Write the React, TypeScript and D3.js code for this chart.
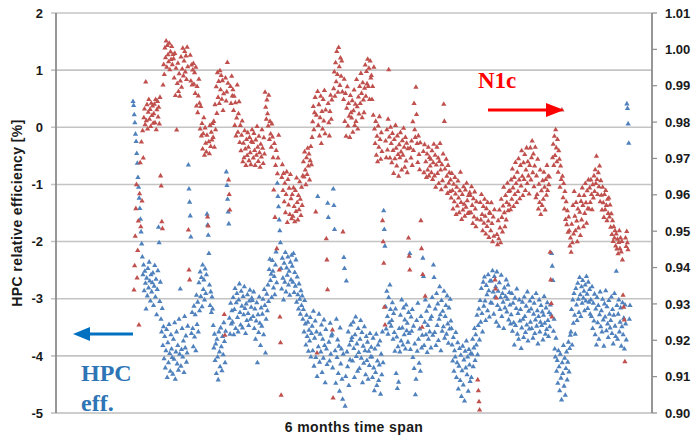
import React from "react";
import * as d3 from "d3";

// HPC relative efficiency [%] (left axis), samples in time order over 6 months
const hpcEff = [
  0.45, 0.38, 0.22, 0.08, -0.12, -0.25, -0.46, -0.63, -0.88, -1.05, -1.24, -1.42, -1.61, -1.83, -2.04, -2.27, -2.58, -2.41, -2.86, -2.52, -2.73, -3.18, -2.64, -2.95, -2.47, -2.81, -2.36, -2.69, -3.04, -2.58, -2.88, -2.72,
  -2.55, -3.12, -2.78, -2.42, -2.97, -2.66, -3.28, -2.84, -2.51, -1.75, -2.02, -3.05, -2.71, -3.36, -3.58, -3.17, -3.82, -3.49, -4.05, -3.66, -4.21, -3.91, -3.54, -4.38, -3.77, -4.12, -3.45, -3.96, -4.27, -3.63, -3.88, -4.03,
  -4.32, -3.71, -4.06, -3.42, -4.41, -3.93, -3.58, -4.14, -3.82, -4.25, -3.36, -3.97, -2.83, -4.18, -3.89, -3.52, -4.02, -3.74, -4.29, -3.31, -3.86, -3.65, -4.11, -3.95, -3.48, -0.66, -1.08, -1.31, -1.55, -1.92, -3.61, -3.24,
  -3.52, -3.84, -3.13, -3.67, -3.28, -3.91, -2.94, -3.45, -3.06, -3.58, -2.72, -3.21, -2.53, -2.96, -2.63, -3.14, -2.41, -2.84, -2.67, -3.02, -2.48, -2.91, -2.58, -1.52, -1.71, -1.89, -2.21, -2.76, -3.12, -2.88, -3.24, -2.97,
  -3.18, -3.47, -3.86, -3.62, -4.08, -3.79, -4.31, -3.71, -4.02, -4.42, -3.58, -3.93, -4.19, -3.51, -3.84, -4.26, -3.66, -3.98, -3.42, -3.75, -4.12, -3.57, -0.78, -1.02, -1.26, -1.48, -1.69, -3.34, -3.62, -3.08, -3.44, -3.21,
  -3.41, -2.98, -3.63, -3.19, -2.82, -3.52, -3.07, -2.91, -3.33, -3.58, -3.02, -2.74, -3.24, -3.46, -2.87, -3.13, -3.51, -2.96, -3.28, -2.79, -3.17, -3.61, -3.09, -3.38, -2.93, -3.26, -3.47, -3.04, -2.85, -3.36, -3.15, -2.99,
  -3.03, -3.31, -2.88, -3.52, -3.18, -3.71, -3.39, -3.07, -4.12, -3.28, -3.59, -2.97, -3.43, -3.82, -3.16, -3.48, -3.27, -3.01, -3.63, -2.84, -3.12, -3.95, -3.36, -2.92, -3.21, -2.76, -3.05, -2.49, -2.31, -2.68, -2.57, -2.98,
  -2.33, -2.52, -2.81, -2.61, -2.93, -2.41, -2.18, -2.72, -0.98, -1.21, -1.39, -1.62, -1.81, -2.02, -2.47, -2.83, -2.29, -2.64, -3.02, -2.38, -2.71, -2.19, -2.88, -2.46, -2.59, -2.27, -2.76, -2.52, -2.94, -2.36, -2.67, -2.24,
  -2.43, -2.71, -2.21, -2.89, -2.54, -2.78, -2.32, -3.06, -2.62, -2.93, -3.18, -2.74, -3.01, -3.27, -2.86, -3.12, -2.95, -3.36, -3.19, -3.58, -3.03, -3.44, -3.81, -3.29, -3.66, -3.41, -3.92, -3.55, -3.74, -3.33, -4.02, -3.61,
  -3.48, -3.91, -3.22, -4.18, -3.69, -3.39, -4.03, -3.58, -4.36, -1.21, -3.84, -3.27, -4.11, -3.62, -3.93, -3.46, -4.29, -3.71, -4.04, -3.37, -3.82, -4.47, -3.54, -3.88, -4.15, -1.33, -1.58, -3.76, -4.09, -3.43, -3.97, -3.65,
  -3.62, -4.21, -1.08, -1.37, -1.79, -3.91, -4.48, -3.36, -4.03, -3.72, -4.31, -3.83, -4.62, -3.51, -4.14, -3.88, -4.41, -4.76, -3.97, -2.28, -2.47, -4.88, -4.36, -2.69, -3.93, -4.19, -3.58, -4.52, -3.81, -4.07, -3.46, -3.73,
  -3.68, -4.09, -3.41, -3.87, -4.38, -3.63, -3.32, -4.01, -3.79, -4.27, -3.52, -3.94, -4.22, -3.71, -3.38, -4.04, -3.59, -4.47, -3.83, -4.13, -3.49, -3.91, -4.33, -3.66, -4.08, -3.76, -4.41, -3.92, -4.17, -3.61, -4.02, -3.85,
  -4.02, -4.38, -3.69, -4.21, -4.61, -3.88, -4.29, -3.62, -4.52, -4.09, -3.81, -4.43, -4.16, -3.74, -4.67, -3.97, -4.33, -3.58, -4.12, -1.46, -1.79, -2.08, -3.14, -3.53, -2.87, -3.31, -3.62, -2.98, -3.42, -2.76, -3.19, -3.48,
  -3.38, -3.07, -3.71, -3.26, -3.59, -3.92, -3.18, -4.31, -3.67, -4.57, -3.84, -4.46, -3.52, -3.93, -3.29, -3.74, -3.02, -3.51, -3.81, -3.16, -3.63, -3.37, -3.88, -3.11, -3.56, -3.43, -3.76, -3.24, -3.61, -2.21, -3.89, -3.32,
  -3.57, -3.19, -4.03, -3.48, -4.22, -3.79, -4.68, -4.41, -3.38, -3.92, -3.08, -3.71, -4.13, -3.53, -4.27, -3.31, -3.86, -3.64, -2.29, -2.61, -3.82, -3.41, -3.02, -3.63, -3.22, -3.94, -3.47, -3.71, -3.13, -3.58, -3.36, -3.86,
  -3.31, -2.98, -3.64, -2.41, -2.63, -3.59, -3.18, -3.82, -2.91, -3.47, -3.09, -3.73, -3.36, -2.79, -3.28, -3.91, -3.03, -3.57, -3.22, -3.49, -2.87, -3.69, -3.31, -3.12, -3.62, -2.95, -3.44, -3.78, -3.16, -3.53, -3.01, -3.39,
  -3.52, -3.81, -4.09, -3.68, -4.27, -3.91, -4.02, -3.59, -4.38, -4.12, -3.77, -4.58, -4.18, -3.87, -4.43, -3.99, -4.71, -4.26, -3.83, -4.51, -4.07, -4.79, -3.92, -4.21, -3.74, -4.33, -4.02, -4.62, -3.89, -4.16, -4.45, -3.96,
  -4.38, -3.97, -3.71, -4.19, -3.86, -3.52, -4.08, -3.63, -3.81, -3.29, -3.98, -3.47, -3.18, -3.72, -3.03, -3.41, -2.82, -3.26, -3.58, -2.71, -3.13, -2.62, -3.04, -3.38, -2.77, -2.93, -3.21, -2.58, -2.86, -3.32, -2.69, -3.07,
  -2.69, -3.08, -2.51, -2.88, -3.27, -2.61, -2.97, -2.79, -3.41, -2.53, -3.12, -2.87, -3.48, -2.72, -3.19, -2.98, -2.59, -3.31, -2.91, -3.06, -3.52, -2.81, -3.16, -2.96, -2.67, -3.23, -3.01, -2.76, -3.37, -2.89, -3.11, -3.44,
  -3.28, -2.91, -3.57, -3.08, -3.42, -3.81, -2.99, -3.47, -3.17, -2.83, -3.62, -3.26, -3.71, -3.02, -3.39, -3.19, -3.87, -3.51, -3.06, -3.36, -3.68, -2.97, -3.31, -3.59, -3.13, -3.46, -2.88, -3.74, -3.22, -3.53, -3.04, -3.41,
  -3.18, -3.52, -2.98, -3.69, -3.27, -3.08, -3.61, -3.37, -2.91, -3.48, -3.21, -3.79, -3.31, -3.02, -3.58, -3.41, -3.12, -3.47, -3.23, -3.72, -3.29, -2.96, -3.43, -3.62, -3.16, -3.54, -3.07, -3.38, -3.66, -3.24, -3.49, -3.11,
  -3.28, -2.21, -2.43, -2.68, -3.57, -3.36, -3.88, -4.02, -3.69, -4.27, -4.08, -4.48, -3.91, -4.19, -4.61, -3.97, -4.39, -4.77, -4.12, -4.31, -3.82, -4.53, -4.04, -4.69, -4.22, -3.93, -4.42, -4.11, -3.76, -4.28, -3.87, -3.64,
  -3.58, -3.19, -3.81, -3.02, -3.43, -2.91, -3.29, -3.62, -2.82, -3.11, -3.38, -2.73, -3.01, -3.24, -2.63, -2.93, -3.31, -2.79, -3.08, -2.68, -2.99, -2.87, -3.21, -2.76, -3.04, -2.61, -2.92, -3.17, -2.71, -3.06, -2.84, -3.27,
  -3.02, -3.31, -2.79, -3.52, -3.08, -3.39, -2.92, -3.63, -3.18, -3.81, -2.98, -3.42, -3.12, -3.71, -3.28, -2.88, -3.49, -3.21, -3.58, -3.01, -3.37, -3.83, -3.09, -3.32, -2.86, -3.56, -3.14, -3.44, -3.68, -3.03, -3.27, -3.51,
  -3.38, -2.97, -3.61, -3.19, -3.79, -3.29, -2.91, -3.48, -3.66, -2.52, -3.12, -3.71, -3.27, -3.02, -3.58, -3.41, -3.16, -3.83, -3.49, -3.07, -3.63, -3.34, -3.88, -3.11, -3.44, -3.72, 0.41, 0.33, 0.06, -0.28, -3.36, -3.12,
];

// N1c (right axis), same time span
const n1c = [
  0.9338, 0.9405, 0.9486, 0.9562, 0.9628, 0.9371, 0.9447, 0.9528, 0.9242, 0.9603, 0.9688, 0.9512, 0.9745, 0.9583, 0.9776, 0.9701, 0.9812, 0.9836, 0.9793, 0.991, 0.9804, 0.9848, 0.9781, 0.9827, 0.9862, 0.9808, 0.9835, 0.9788, 0.9852, 0.9818, 0.9844, 0.9797,
  0.9823, 0.9849, 0.9798, 0.9862, 0.9779, 0.9834, 0.9857, 0.9814, 0.9841, 0.9795, 0.9868, 0.9652, 0.9624, 0.9526, 0.9507, 0.9902, 0.9958, 0.9931, 1.0004, 0.9977, 1.0023, 0.9951, 1.0011, 0.9985, 0.9966, 1.0017, 0.9944, 0.9993, 0.9972, 1.0008, 0.9958, 0.9986,
  0.9974, 0.9921, 0.9989, 0.9873, 0.9948, 0.9778, 0.9906, 0.9962, 0.9884, 0.9933, 0.9871, 0.9913, 0.9979, 0.9896, 0.9946, 1.0003, 0.9927, 0.9968, 0.9994, 0.9938, 0.9982, 0.9917, 1.0006, 0.9952, 0.9503, 0.9393, 0.9366, 0.9984, 0.9913, 0.9957, 0.9902, 0.9943,
  0.9961, 0.9904, 0.9936, 0.9879, 0.9951, 0.9844, 0.9898, 0.9826, 0.9872, 0.9918, 0.9852, 0.9781, 0.9843, 0.9762, 0.9796, 0.9726, 0.9768, 0.9812, 0.9709, 0.9784, 0.9742, 0.9718, 0.9764, 0.9539, 0.9514, 0.9746, 0.9713, 0.9791, 0.9733, 0.9772, 0.9751, 0.9796,
  0.9758, 0.9802, 0.9731, 0.9848, 0.9779, 0.9897, 0.9824, 0.9936, 0.9868, 0.9912, 0.9851, 0.9941, 0.9889, 0.9928, 0.9863, 0.9914, 0.9832, 0.9878, 0.9271, 0.9214, 0.9921, 0.9858, 0.9883, 0.9964, 0.9907, 0.9641, 0.9601, 0.9558, 0.9898, 0.9851, 0.9926, 0.9872,
  0.9889, 0.9832, 0.9871, 0.9791, 0.9853, 0.9762, 0.9811, 0.9902, 0.9772, 0.9823, 0.9856, 0.9744, 0.9791, 0.9721, 0.9764, 0.9803, 0.9691, 0.9742, 0.9702, 0.9776, 0.9726, 0.9681, 0.9752, 0.9708, 0.9771, 0.9731, 0.9694, 0.9758, 0.9716, 0.9683, 0.9747, 0.9779,
  0.9744, 0.9701, 0.9769, 0.9722, 0.9681, 0.9751, 0.9709, 0.9788, 0.9731, 0.9692, 0.9761, 0.9716, 0.9676, 0.9739, 0.9704, 0.9779, 0.9728, 0.9686, 0.9757, 0.9712, 0.9882, 0.9841, 0.9808, 0.9861, 0.9823, 0.9789, 0.9874, 0.9752, 0.9802, 0.9767, 0.9731, 0.9795,
  0.9759, 0.9702, 0.9613, 0.9741, 0.9538, 0.9681, 0.9722, 0.9452, 0.9658, 0.9701, 0.9764, 0.9393, 0.9264, 0.9193, 0.9049, 0.9648, 0.9683, 0.9612, 0.9659, 0.9581, 0.9632, 0.9551, 0.9601, 0.9663, 0.9524, 0.9642, 0.9572, 0.9618, 0.9546, 0.9656, 0.9589, 0.9534,
  0.9601, 0.9541, 0.9619, 0.9568, 0.9526, 0.9612, 0.9554, 0.9646, 0.9579, 0.9531, 0.9598, 0.9559, 0.9636, 0.9588, 0.9543, 0.9621, 0.9571, 0.9652, 0.9691, 0.9649, 0.9718, 0.9668, 0.9628, 0.9702, 0.9656, 0.9728, 0.9679, 0.9712, 0.9641, 0.9694, 0.9733, 0.9683,
  0.9758, 0.9801, 0.9843, 0.9779, 0.9826, 0.9868, 0.9553, 0.9819, 0.9165, 0.9884, 0.9791, 0.9848, 0.9762, 0.9812, 0.9871, 0.9741, 0.9829, 0.9781, 0.9862, 0.9803, 0.9887, 0.9768, 0.9833, 0.9479, 0.9421, 0.9339, 0.9851, 0.9798, 0.9762, 0.9829, 0.9874, 0.9808,
  0.9861, 0.9228, 0.9041, 0.9892, 0.9938, 0.9871, 0.9963, 0.9911, 0.9994, 0.9931, 0.9882, 1.0005, 0.9952, 0.9901, 0.9976, 0.9926, 0.9968, 0.9883, 0.9498, 0.9862, 0.9918, 0.9802, 0.9879, 0.9761, 0.9838, 0.9897, 0.9789, 0.9851, 0.9816, 0.9758, 0.9873, 0.9826,
  0.9811, 0.9859, 0.9772, 0.9831, 0.9888, 0.9791, 0.9849, 0.9802, 0.9917, 0.9842, 0.9781, 0.9869, 0.9822, 0.9898, 0.9851, 0.9934, 0.9879, 0.9812, 0.9908, 0.9861, 0.9826, 0.9893, 0.9957, 0.9871, 0.9939, 0.9905, 0.9973, 0.9898, 0.9948, 0.9862, 0.9968, 0.9921,
  0.9928, 0.9862, 0.9898, 0.9819, 0.9951, 0.9781, 0.9741, 0.9802, 0.9709, 0.9761, 0.9691, 0.9789, 0.9731, 0.9815, 0.9752, 0.9698, 0.9771, 0.9719, 0.9529, 0.9471, 0.9412, 0.9291, 0.9242, 0.9748, 0.9702, 0.9779, 0.9723, 0.9808, 0.9944, 0.9759, 0.9701, 0.9786,
  0.9741, 0.9688, 0.9769, 0.9722, 0.9659, 0.9752, 0.9699, 0.9791, 0.9728, 0.9679, 0.9762, 0.9711, 0.9651, 0.9738, 0.9702, 0.9771, 0.9718, 0.9668, 0.9749, 0.9709, 0.9783, 0.9731, 0.9676, 0.9758, 0.9693, 0.9742, 0.9661, 0.9727, 0.9481, 0.9431, 0.9393, 0.9729,
  0.9701, 0.9748, 0.9681, 0.9801, 0.9722, 0.9851, 0.9779, 0.9758, 0.9896, 0.9821, 0.9741, 0.9689, 0.9762, 0.9711, 0.9669, 0.9743, 0.9529, 0.9452, 0.9236, 0.9381, 0.9719, 0.9661, 0.9738, 0.9321, 0.9691, 0.9648, 0.9712, 0.9668, 0.9731, 0.9652, 0.9703, 0.9679,
  0.9698, 0.9661, 0.9721, 0.9642, 0.9688, 0.9739, 0.9652, 0.9709, 0.9621, 0.9682, 0.9731, 0.9659, 0.9701, 0.9631, 0.9692, 0.9741, 0.9668, 0.9614, 0.9683, 0.9639, 0.9712, 0.9849, 0.9802, 0.9671, 0.9622, 0.9698, 0.9651, 0.9604, 0.9681, 0.9632, 0.9661, 0.9609,
  0.9641, 0.9591, 0.9659, 0.9612, 0.9561, 0.9629, 0.9581, 0.9648, 0.9602, 0.9546, 0.9621, 0.9569, 0.9638, 0.9591, 0.9551, 0.9611, 0.9662, 0.9579, 0.9532, 0.9601, 0.9558, 0.9622, 0.9574, 0.9541, 0.9613, 0.9566, 0.9632, 0.9584, 0.9549, 0.9598, 0.9551, 0.9606,
  0.9598, 0.9551, 0.9622, 0.9571, 0.9521, 0.9589, 0.9539, 0.9608, 0.9561, 0.9512, 0.9581, 0.9533, 0.9091, 0.9061, 0.9031, 0.9008, 0.9579, 0.9531, 0.9601, 0.9546, 0.9501, 0.9568, 0.9522, 0.9588, 0.9541, 0.9492, 0.9562, 0.9513, 0.9579, 0.9528, 0.9483, 0.9551,
  0.9549, 0.9501, 0.9578, 0.9521, 0.9471, 0.9539, 0.9486, 0.9559, 0.9366, 0.9341, 0.9316, 0.9491, 0.9463, 0.9529, 0.9479, 0.9558, 0.9509, 0.9468, 0.9588, 0.9538, 0.9498, 0.9569, 0.9621, 0.9551, 0.9512, 0.9598, 0.9531, 0.9579, 0.9632, 0.9556, 0.9609, 0.9572,
  0.9611, 0.9559, 0.9641, 0.9588, 0.9671, 0.9619, 0.9568, 0.9648, 0.9601, 0.9689, 0.9631, 0.9579, 0.9662, 0.9609, 0.9699, 0.9641, 0.9589, 0.9681, 0.9624, 0.9721, 0.9651, 0.9598, 0.9688, 0.9642, 0.9711, 0.9612, 0.9668, 0.9729, 0.9631, 0.9691, 0.9652, 0.9602,
  0.9681, 0.9729, 0.9641, 0.9702, 0.9748, 0.9661, 0.9712, 0.9622, 0.9679, 0.9731, 0.9592, 0.9652, 0.9601, 0.9698, 0.9561, 0.9629, 0.9579, 0.9668, 0.9546, 0.9611, 0.9571, 0.9639, 0.9588, 0.9662, 0.9621, 0.9558, 0.9642, 0.9599, 0.9681, 0.9612, 0.9651, 0.9628,
  0.9649, 0.9442, 0.9366, 0.9301, 0.9264, 0.9702, 0.9739, 0.9681, 0.9761, 0.9708, 0.9779, 0.9729, 0.9691, 0.9752, 0.9662, 0.9721, 0.9698, 0.9621, 0.9679, 0.9642, 0.9833, 0.9651, 0.9592, 0.9631, 0.9561, 0.9609, 0.9532, 0.9581, 0.9518, 0.9556, 0.9497, 0.9539,
  0.9501, 0.9459, 0.9481, 0.9442, 0.9519, 0.9468, 0.9571, 0.9492, 0.9609, 0.9541, 0.9501, 0.9579, 0.9528, 0.9471, 0.9561, 0.9509, 0.9598, 0.9552, 0.9488, 0.9582, 0.9531, 0.9619, 0.9571, 0.9512, 0.9598, 0.9549, 0.9631, 0.9578, 0.9522, 0.9611, 0.9562, 0.9641,
  0.9561, 0.9619, 0.9579, 0.9641, 0.9601, 0.9559, 0.9628, 0.9591, 0.9652, 0.9609, 0.9669, 0.9631, 0.9706, 0.9642, 0.9601, 0.9661, 0.9622, 0.9679, 0.9581, 0.9639, 0.9599, 0.9558, 0.9621, 0.9578, 0.9538, 0.9601, 0.9559, 0.9612, 0.9571, 0.9529, 0.9588, 0.9549,
  0.9591, 0.9539, 0.9572, 0.9511, 0.9548, 0.9491, 0.9529, 0.9472, 0.9512, 0.9481, 0.9501, 0.9459, 0.9492, 0.9451, 0.9478, 0.9438, 0.9469, 0.9501, 0.9452, 0.9481, 0.9443, 0.9472, 0.9421, 0.9324, 0.9291, 0.9256, 0.9141, 0.9481, 0.9458, 0.9499, 0.9468, 0.9449,
];

const leftTicks = [2, 1, 0, -1, -2, -3, -4, -5];
const rightTicks = [1.01, 1.0, 0.99, 0.98, 0.97, 0.96, 0.95, 0.94, 0.93, 0.92, 0.91, 0.9];

const W = 697;
const H = 438;
const margin = { top: 13, right: 45, bottom: 25, left: 56 };
const plotLeft = margin.left;
const plotRight = W - margin.right;
const plotTop = margin.top;
const plotBottom = H - margin.bottom;

const BLUE = "#4F81BD";
const RED = "#C0504D";
const sans = "'Liberation Sans', Arial, sans-serif";
const serif = "'Liberation Serif', 'Times New Roman', serif";

// the samples sit in the middle of the 6-month axis, not edge to edge
const sampleStart = 133;
const sampleEnd = 630;

export default function App() {
  const xBlue = d3.scaleLinear().domain([0, hpcEff.length - 1]).range([sampleStart, sampleEnd]);
  const xRed = d3.scaleLinear().domain([0, n1c.length - 1]).range([sampleStart + 1, sampleEnd - 2]);
  const yLeft = d3.scaleLinear().domain([-5, 2]).range([plotBottom, plotTop]);
  const yRight = d3.scaleLinear().domain([0.9, 1.01]).range([plotBottom, plotTop]);

  const tri = d3.symbol().type(d3.symbolTriangle).size(12)() as string;

  return (
    <svg
      width={W}
      height={H}
      style={{ position: "absolute", left: 0, top: 0, background: "#fff" }}
    >
      {/* gridlines */}
      {leftTicks.slice(0, -1).map((t) => (
        <line
          key={"g" + t}
          x1={plotLeft - 5}
          x2={plotRight}
          y1={yLeft(t)}
          y2={yLeft(t)}
          stroke="#c4c4c4"
          strokeWidth={1.6}
        />
      ))}

      {/* points */}
      <g fill={BLUE}>
        {hpcEff.map((v, i) => (
          <path key={"b" + i} d={tri} transform={`translate(${xBlue(i)},${yLeft(v)})`} />
        ))}
      </g>
      <g fill={RED}>
        {n1c.map((v, i) => (
          <path key={"r" + i} d={tri} transform={`translate(${xRed(i)},${yRight(v)})`} />
        ))}
      </g>

      {/* axes */}
      <line x1={plotLeft - 5} x2={plotRight} y1={plotBottom} y2={plotBottom} stroke="#bdbdbd" strokeWidth={1.6} />
      <line x1={plotLeft} x2={plotLeft} y1={plotTop} y2={plotBottom} stroke="#8c8c8c" strokeWidth={1.8} />
      <line x1={plotRight} x2={plotRight} y1={plotTop} y2={plotBottom} stroke="#8c8c8c" strokeWidth={1.8} />
      {rightTicks.map((t) => (
        <line key={"rt" + t} x1={plotRight} x2={plotRight + 5} y1={yRight(t)} y2={yRight(t)} stroke="#8c8c8c" strokeWidth={1.2} />
      ))}

      {/* tick labels */}
      {leftTicks.map((t) => (
        <text
          key={"lt" + t}
          x={43}
          y={yLeft(t)}
          dy="0.36em"
          textAnchor="end"
          fontFamily={sans}
          fontWeight="bold"
          fontSize={13}
          fill="#1a1a1a"
        >
          {t}
        </text>
      ))}
      {rightTicks.map((t) => (
        <text
          key={"rl" + t}
          x={665}
          y={yRight(t)}
          dy="0.36em"
          fontFamily={sans}
          fontWeight="bold"
          fontSize={13}
          fill="#1a1a1a"
        >
          {t.toFixed(2)}
        </text>
      ))}

      {/* axis titles */}
      <text
        transform={`translate(22,${(plotTop + plotBottom) / 2}) rotate(-90)`}
        textAnchor="middle"
        fontFamily={sans}
        fontWeight="bold"
        fontSize={14}
        letterSpacing={0.4}
        fill="#1a1a1a"
      >
        HPC relative efficiency [%]
      </text>
      <text
        x={354}
        y={432}
        textAnchor="middle"
        fontFamily={sans}
        fontWeight="bold"
        fontSize={14}
        letterSpacing={0.4}
        fill="#1a1a1a"
      >
        6 months time span
      </text>

      {/* annotations */}
      <text x={478} y={88} fontFamily={serif} fontWeight="bold" fontSize={23} fill="#ff0000">
        N1c
      </text>
      <line x1={488} x2={548} y1={110} y2={110} stroke="#ff0000" strokeWidth={3} />
      <path d="M546,103 L564,110 L546,117 Z" fill="#ff0000" />

      <line x1={88} x2={133} y1={334} y2={334} stroke="#0070C0" strokeWidth={3} />
      <path d="M90,327 L73,334 L90,341 Z" fill="#0070C0" />
      <text x={81} y={381} fontFamily={serif} fontWeight="bold" fontSize={24} fill="#2E75B6">
        HPC
      </text>
      <text x={81} y={411} fontFamily={serif} fontWeight="bold" fontSize={24} fill="#2E75B6">
        eff.
      </text>
    </svg>
  );
}
